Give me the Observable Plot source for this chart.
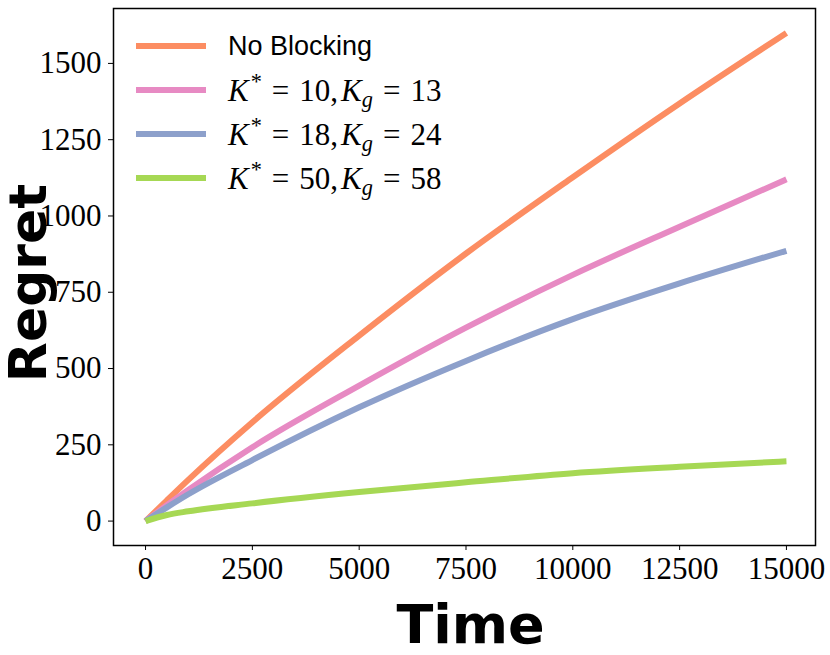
<!DOCTYPE html>
<html>
<head>
<meta charset="utf-8">
<script src="https://cdn.jsdelivr.net/npm/d3@7"></script>
<script src="https://cdn.jsdelivr.net/npm/@observablehq/plot@0.6"></script>
<style>
  html, body { margin: 0; padding: 0; background: #fff; }
  #wrap { position: relative; width: 830px; height: 655px; }
  #legend { position: absolute; left: 136px; top: 24px; }
  .row { display: flex; align-items: center; height: 44px; }
  .sw { width: 70px; height: 6px; margin-right: 22px; flex: none; }
  .lab { font-family: "Liberation Sans", sans-serif; font-size: 27px; color: #000; line-height: 1; }
  .math { font-family: "Liberation Serif", serif; font-size: 31px; color: #000; line-height: 1; white-space: nowrap; display: inline-flex; align-items: baseline; }
  .sup { font-size: 0.72em; position: relative; top: -0.5em; margin-left: 2px; }
  .sub { font-size: 0.72em; position: relative; top: 0.28em; font-style: italic; }
  .eq { display: inline-block; margin: 0 10px; }
  .cm { display: inline-block; margin-right: 3px; }
</style>
</head>
<body>
<div id="wrap"></div>
<script>
// ---- data ----
const time = [0, 500, 1000, 2500, 5000, 7500, 10000, 12500, 15000];
const noBlocking = [0, 68, 135, 324, 608, 877, 1127, 1369, 1600];
const k10 = [0, 52, 102, 242, 444, 634, 807, 965, 1120];
const k18 = [0, 45, 88, 200, 373, 525, 662, 779, 886];
const k50 = [0, 20, 32, 58, 95, 127, 157, 178, 196];

const seriesNames = ["No Blocking", "K10", "K18", "K50"];
const seriesValues = [noBlocking, k10, k18, k50];
const colors = ["#fc8d62", "#e78ac3", "#8da0cb", "#a6d854"];
const xTicks = [0, 2500, 5000, 7500, 10000, 12500, 15000];
const yTicks = [0, 250, 500, 750, 1000, 1250, 1500];
const kStar = ["10", "18", "50"];
const kG = ["13", "24", "58"];

const rows = [];
seriesNames.forEach((s, i) => time.forEach((t, j) => rows.push({series: s, t, v: seriesValues[i][j]})));

const tickFont = {fontSize: 31, fontFamily: "Liberation Serif, serif"};

const chart = Plot.plot({
  width: 830,
  height: 655,
  marginLeft: 113,
  marginRight: 15,
  marginTop: 8,
  marginBottom: 110,
  style: {background: "#fff", color: "#000", overflow: "visible"},
  x: {domain: [-750, 15680]},
  y: {domain: [-80, 1680]},
  color: {domain: seriesNames, range: colors},
  marks: [
    Plot.line(rows, {x: "t", y: "v", z: "series", stroke: "series", strokeWidth: 6, curve: "monotone-x", strokeLinecap: "butt"}),
    Plot.frame({stroke: "#000", strokeWidth: 1.5}),
    Plot.axisY({ticks: yTicks, tickSize: 5, tickPadding: 7, tickFormat: d3.format("d"), label: null, ...tickFont}),
    Plot.axisX({ticks: xTicks, tickSize: 5, tickPadding: 6, tickFormat: d3.format("d"), label: null, ...tickFont}),
    Plot.text(["Time"], {text: d => d, frameAnchor: "bottom", textAnchor: "middle", dx: 6, dy: 80, lineAnchor: "middle", fontSize: 54, fontWeight: "bold", fontFamily: "DejaVu Sans, sans-serif", fill: "#000"}),
    Plot.text(["Regret"], {text: d => d, frameAnchor: "left", textAnchor: "middle", rotate: -90, dx: -84, dy: 6, lineAnchor: "middle", fontSize: 52, fontWeight: "bold", fontFamily: "DejaVu Sans, sans-serif", fill: "#000"})
  ]
});

const wrap = document.getElementById("wrap");
wrap.appendChild(chart);

// legend
const eq = '<span class="eq">=</span>';
const legendLabels = [{html: "No Blocking", cls: "lab"}].concat(kStar.map((k, i) => ({
  html: `<i>K</i><span class="sup">*</span>${eq}<span class="cm">${k},</span><i>K</i><span class="sub">g</span>${eq}${kG[i]}`,
  cls: "math"
})));
const legend = document.createElement("div");
legend.id = "legend";
legendLabels.forEach((l, i) => {
  const row = document.createElement("div");
  row.className = "row";
  row.innerHTML = `<div class="sw" style="background:${colors[i]}"></div><span class="${l.cls}">${l.html}</span>`;
  legend.appendChild(row);
});
wrap.appendChild(legend);
</script>
</body>
</html>
